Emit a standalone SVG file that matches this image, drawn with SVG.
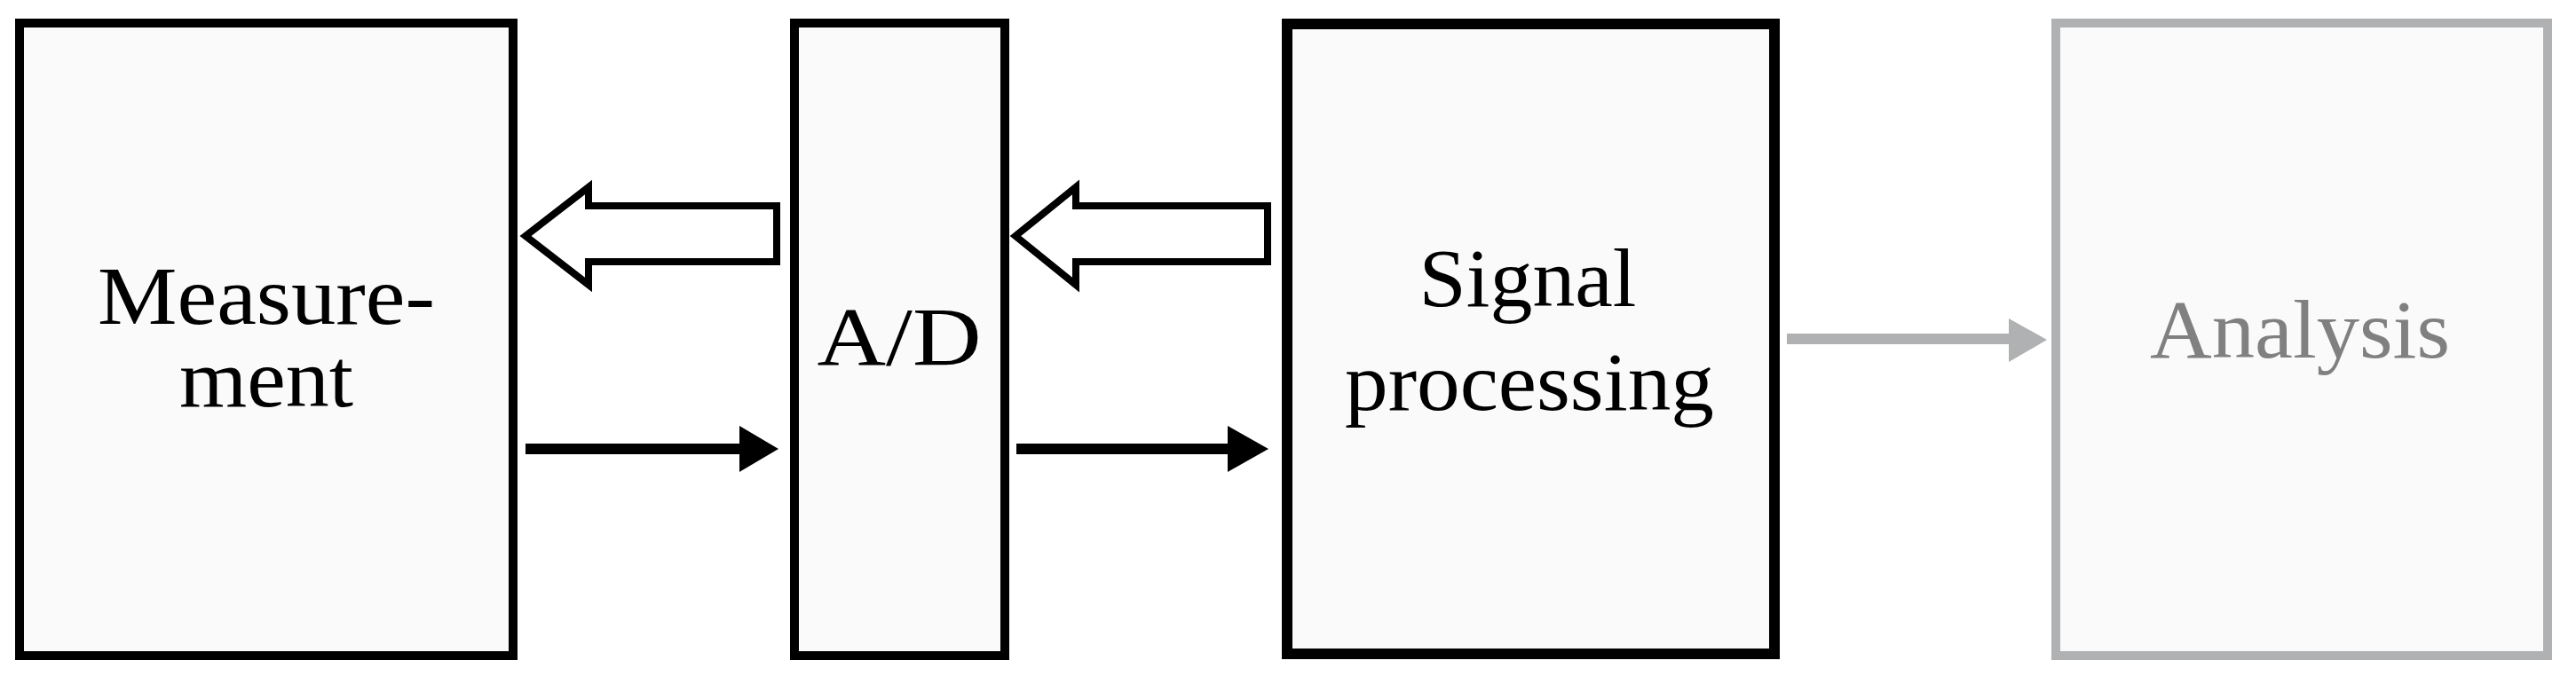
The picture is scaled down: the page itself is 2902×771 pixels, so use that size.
<svg xmlns="http://www.w3.org/2000/svg" width="2902" height="771" viewBox="0 0 2902 771">
<style>
.box{fill:#fafafa;stroke:#000;stroke-width:10}
.g{fill:#fafafa;stroke:#afb1b2;stroke-width:10}
.t{font-family:"Liberation Serif",serif;font-size:94px;fill:#000;text-anchor:middle}
.hollow{fill:#fff;stroke:#000;stroke-width:8;stroke-linejoin:miter}
</style>
<rect width="2902" height="771" fill="#fff"/>
<g id="measurement"><rect class="box" x="22" y="26" width="556" height="713"/>
<text class="t" x="300" y="365" textLength="380" lengthAdjust="spacingAndGlyphs">Measure-</text>
<text class="t" x="300" y="458" textLength="196" lengthAdjust="spacingAndGlyphs">ment</text></g>
<g id="ad"><rect class="box" x="895" y="26" width="237" height="713"/>
<text class="t" x="1013" y="411" textLength="185" lengthAdjust="spacingAndGlyphs">A/D</text></g>
<g id="signal"><rect class="box" x="1450" y="27" width="549" height="710" style="stroke-width:12"/>
<text class="t" x="1721" y="345" textLength="245" lengthAdjust="spacingAndGlyphs">Signal</text>
<text class="t" x="1723" y="462" textLength="416" lengthAdjust="spacingAndGlyphs">processing</text></g>
<g id="analysis"><rect class="g" x="2316" y="26" width="554" height="713"/>
<text class="t" x="2591" y="403" textLength="338" lengthAdjust="spacingAndGlyphs" style="fill:#808080">Analysis</text></g>
<g id="connectors">
<path class="hollow" d="M875,232 L663,232 L663,211 L592,266 L663,321 L663,295 L875,295 Z"/>
<path class="hollow" d="M1428,232 L1212,232 L1212,211 L1144,266 L1212,321 L1212,295 L1428,295 Z"/>
<path d="M592,500 L833,500 L833,480 L877,506 L833,532 L833,512 L592,512 Z" fill="#000"/>
<path d="M1145,500 L1383,500 L1383,480 L1429,506 L1383,532 L1383,512 L1145,512 Z" fill="#000"/>
<path d="M2013,376 L2263,376 L2263,359 L2306,383 L2263,408 L2263,388 L2013,388 Z" fill="#afb1b2"/>
</g>
</svg>
